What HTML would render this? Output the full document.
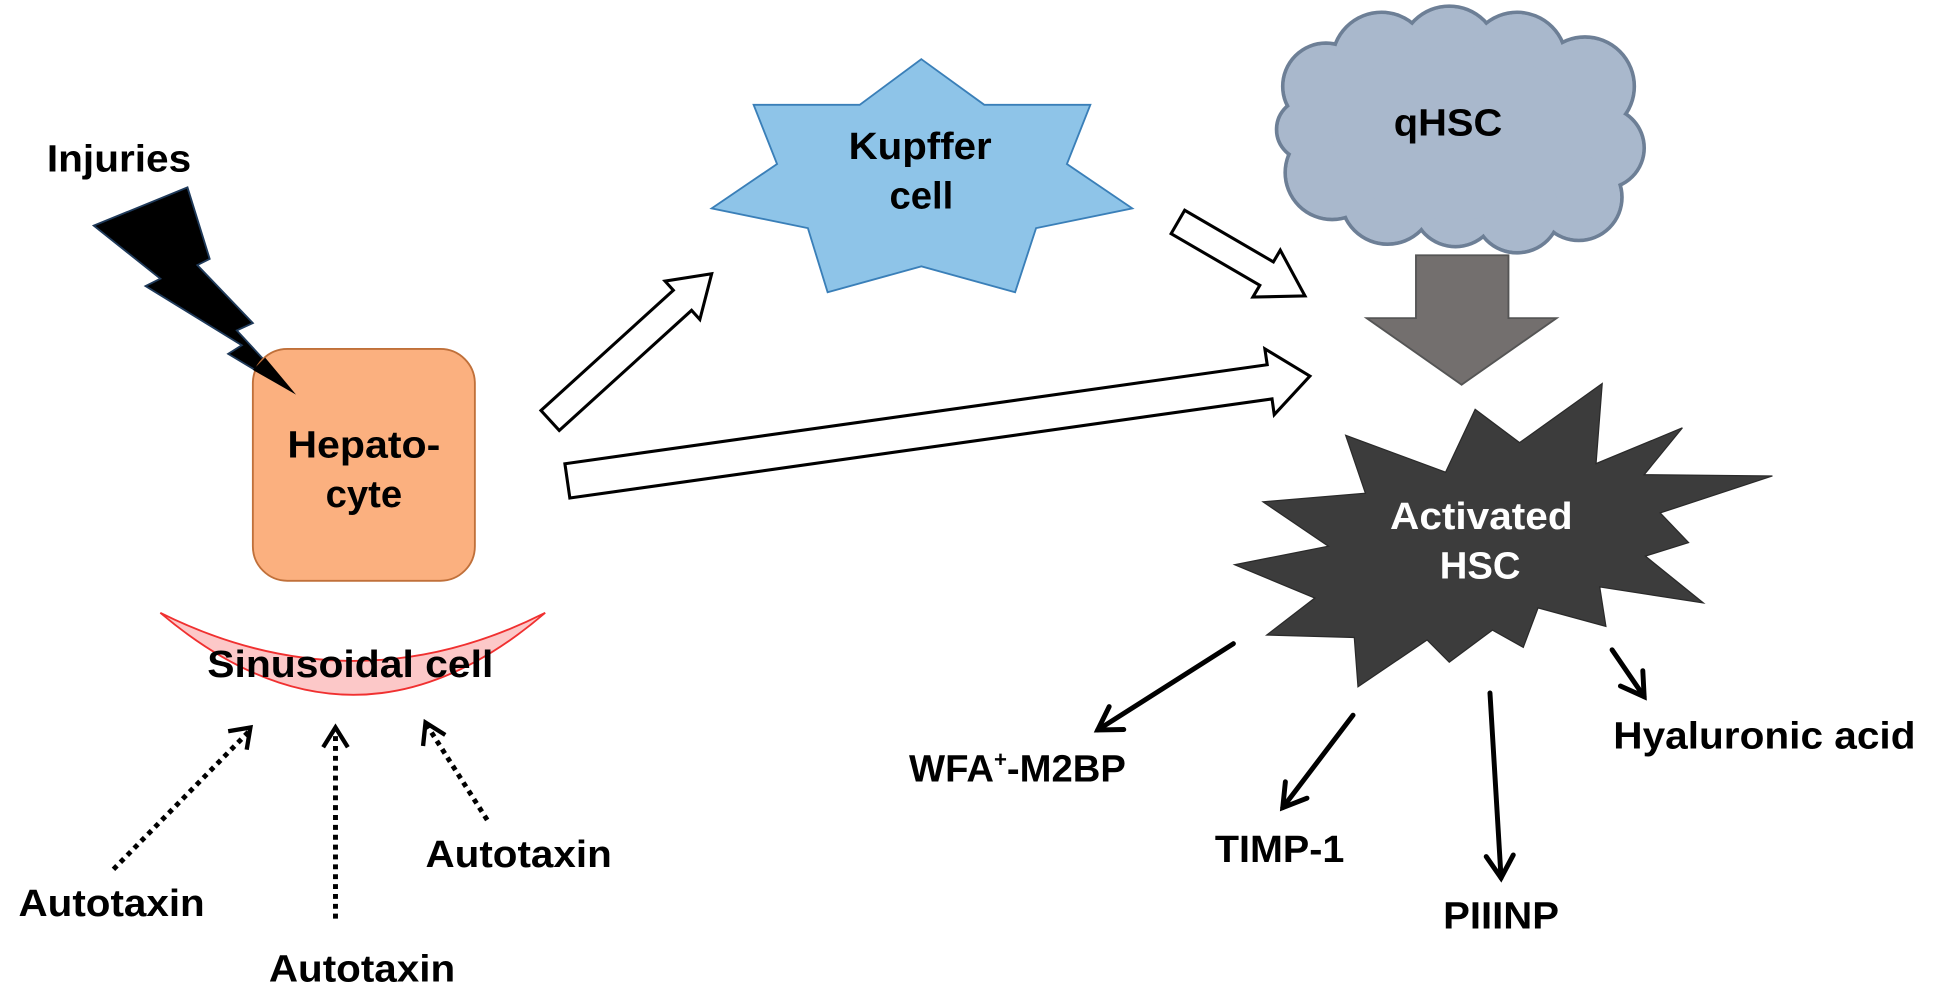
<!DOCTYPE html>
<html><head><meta charset="utf-8"><style>
html,body{margin:0;padding:0;background:#fff;width:1934px;height:1000px;overflow:hidden}
svg{display:block}
text{font-family:"Liberation Sans",Arial,sans-serif;font-weight:bold;font-size:31px;fill:#000}
</style></head><body>
<svg id="s" width="1934" height="1000" viewBox="0 0 1568 811" preserveAspectRatio="none" xmlns="http://www.w3.org/2000/svg">
<text x="38" y="139" textLength="117" lengthAdjust="spacingAndGlyphs">Injuries</text>
<polygon points="76,183 152,152 170,210 160,215 205,262 192,268 240,320 185,287 196,280 118,232 130,226" fill="#000" stroke="#1f3a5a" stroke-width="1.5"/>
<rect x="205" y="283" width="180" height="188" rx="28" fill="#fbb07f" stroke="#c0703a" stroke-width="1.5"/>
<polygon points="205,300 240,320 215,290" fill="#000"/>
<text x="233" y="371" textLength="124" lengthAdjust="spacingAndGlyphs">Hepato-</text>
<text x="295" y="411" text-anchor="middle">cyte</text>
<path d="M130,497 Q287,630 442,497 Q287,575 130,497 Z" fill="#fcc8c8" stroke="#f03030" stroke-width="1.5"/>
<text x="168" y="549" textLength="232" lengthAdjust="spacingAndGlyphs">Sinusoidal cell</text>
<g stroke="#000" stroke-width="4" fill="none">
<line x1="92" y1="705" x2="203" y2="592" stroke-dasharray="4,4"/>
<polyline points="185,593 203,590 200,608" stroke-width="3.5"/>
<line x1="272" y1="745" x2="272" y2="592" stroke-dasharray="4,4"/>
<polyline points="262,606 272,590 282,606" stroke-width="3.5"/>
<line x1="395" y1="665" x2="346" y2="588" stroke-dasharray="4,4"/>
<polyline points="343,605 345,586 361,596" stroke-width="3.5"/>
</g>
<text x="15" y="743" textLength="151" lengthAdjust="spacingAndGlyphs">Autotaxin</text>
<text x="218" y="796" textLength="151" lengthAdjust="spacingAndGlyphs">Autotaxin</text>
<text x="345" y="703" textLength="151" lengthAdjust="spacingAndGlyphs">Autotaxin</text>
<polygon points="747,48 798,85 884,85 865,133 918,169 840,185 823,237 747,216 671,237 655,185 577,169 630,133 611,85 697,85" fill="#8ec4e8" stroke="#3a7fb8" stroke-width="1.5"/>
<text x="688" y="129" textLength="116" lengthAdjust="spacingAndGlyphs">Kupffer</text>
<text x="747" y="169" text-anchor="middle">cell</text>
<g id="cloud"></g>
<text x="1130" y="110" textLength="88" lengthAdjust="spacingAndGlyphs">qHSC</text>
<polygon points="1148,207 1223,207 1223,258 1262,258 1185,312 1108,258 1148,258" fill="#736f6e" stroke="#555" stroke-width="1.5"/>
<g id="blk"></g>
<polygon points="1299,311 1294,376 1364,347 1333,385 1437,386 1346,416 1369,440 1334,451 1381,489 1297,476 1302,508 1247,493 1235,525 1210,511 1175,537 1157,519 1101,557 1098,517 1027,515 1066,485 1001,458 1077,443 1024,407 1107,400 1091,353 1172,383 1196,332 1232,359" fill="#3c3c3c" stroke="#2a2a2a" stroke-width="1"/>
<text x="1127" y="429" textLength="148" lengthAdjust="spacingAndGlyphs" style="fill:#fff">Activated</text>
<text x="1200" y="469" text-anchor="middle" style="fill:#fff">HSC</text>
<g id="ln" stroke="#000" stroke-width="4" fill="none" stroke-linecap="round"></g>
<text x="737" y="634">WFA<tspan font-size="18" dy="-12">+</tspan><tspan dy="12">-M2BP</tspan></text>
<text x="985" y="699" textLength="105" lengthAdjust="spacingAndGlyphs">TIMP-1</text>
<text x="1170" y="753" textLength="94" lengthAdjust="spacingAndGlyphs">PIIINP</text>
<text x="1308" y="607" textLength="245" lengthAdjust="spacingAndGlyphs">Hyaluronic acid</text>
</svg>
<script>
var NS="http://www.w3.org/2000/svg";
function el(p,n,a){var e=document.createElementNS(NS,n);for(var k in a)e.setAttribute(k,a[k]);p.appendChild(e);return e;}
var c=document.getElementById('cloud');
var circ=[[1075,70,35],[1120,50,40],[1175,45,40],[1230,50,40],[1285,70,40],[1300,120,33],[1280,160,35],[1230,170,35],[1180,165,35],[1125,160,38],[1080,140,38],[1060,105,25]];
circ.forEach(function(q){el(c,'circle',{cx:q[0],cy:q[1],r:q[2],fill:'#a9b8cc',stroke:'#6d7f96','stroke-width':3});});
circ.forEach(function(q){el(c,'circle',{cx:q[0],cy:q[1],r:q[2]-1.5,fill:'#a9b8cc'});});
el(c,'ellipse',{cx:1180,cy:108,rx:100,ry:70,fill:'#a9b8cc'});
function blk(x1,y1,x2,y2,sw,hw,hl){
 var dx=x2-x1,dy=y2-y1,L=Math.hypot(dx,dy),ux=dx/L,uy=dy/L,nx=-uy,ny=ux;
 var bx=x2-ux*hl,by=y2-uy*hl;
 var p=[[x1+nx*sw,y1+ny*sw],[bx+nx*sw,by+ny*sw],[bx+nx*hw,by+ny*hw],[x2,y2],[bx-nx*hw,by-ny*hw],[bx-nx*sw,by-ny*sw],[x1-nx*sw,y1-ny*sw]];
 el(document.getElementById('blk'),'polygon',{points:p.map(function(a){return a[0].toFixed(1)+','+a[1].toFixed(1)}).join(' '),fill:'#fff',stroke:'#000','stroke-width':2.5});
}
blk(446,341,577,222,11,21,32);
blk(955,180,1058,240,11,22,36);
blk(460,390,1062,305,14,27,33);
function la(x1,y1,x2,y2){
 var g=document.getElementById('ln');
 el(g,'line',{x1:x1,y1:y1,x2:x2,y2:y2});
 var dx=x2-x1,dy=y2-y1,L=Math.hypot(dx,dy),ux=dx/L,uy=dy/L,nx=-uy,ny=ux,h=18,w=11;
 el(g,'polyline',{points:(x2-ux*h+nx*w)+','+(y2-uy*h+ny*w)+' '+x2+','+y2+' '+(x2-ux*h-nx*w)+','+(y2-uy*h-ny*w)});
}
la(1000,522,890,592);
la(1097,580,1040,655);
la(1208,562,1217,712);
la(1307,527,1333,565);
</script>
</body></html>
